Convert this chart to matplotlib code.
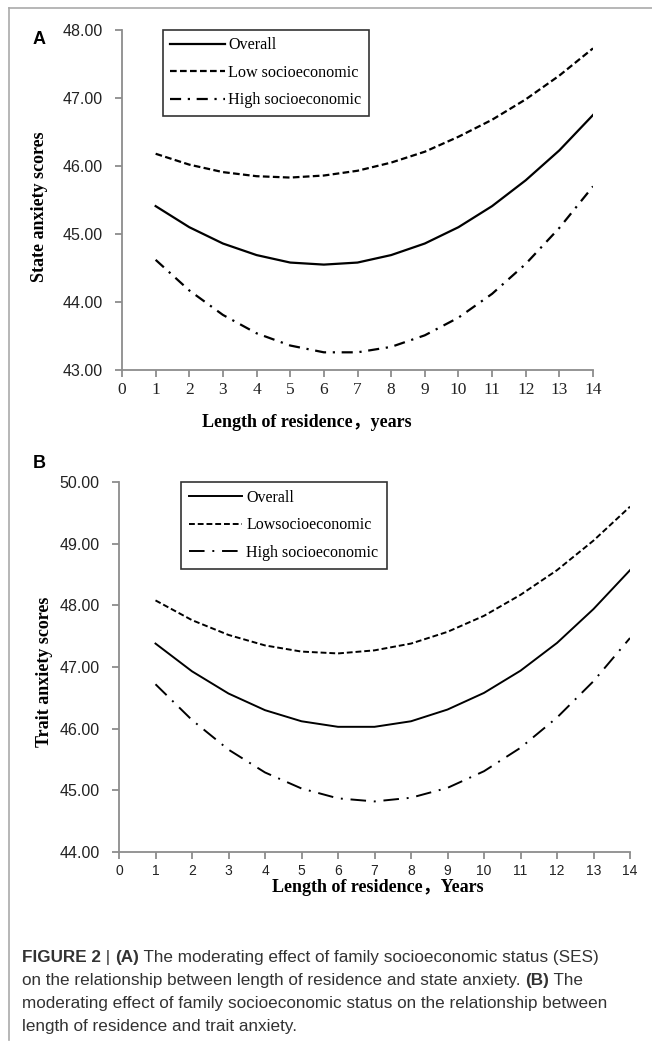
import matplotlib.pyplot as plt
from matplotlib.lines import Line2D

years = list(range(1, 15))

# panel A: state anxiety
stateOverall = [45.41, 45.10, 44.86, 44.69, 44.58, 44.55, 44.58, 44.69, 44.86, 45.10, 45.41, 45.79, 46.23, 46.75]
stateLow = [46.18, 46.02, 45.91, 45.85, 45.83, 45.86, 45.93, 46.05, 46.21, 46.43, 46.68, 46.98, 47.33, 47.73]
stateHigh = [44.62, 44.17, 43.81, 43.54, 43.36, 43.26, 43.26, 43.34, 43.51, 43.77, 44.12, 44.56, 45.09, 45.70]

# panel B: trait anxiety
traitOverall = [47.38, 46.93, 46.57, 46.30, 46.12, 46.03, 46.03, 46.12, 46.31, 46.58, 46.94, 47.39, 47.94, 48.57]
traitLow = [48.08, 47.76, 47.52, 47.35, 47.25, 47.22, 47.27, 47.38, 47.57, 47.83, 48.17, 48.57, 49.05, 49.60]
traitHigh = [46.72, 46.14, 45.66, 45.29, 45.03, 44.87, 44.82, 44.88, 45.04, 45.31, 45.69, 46.18, 46.77, 47.47]

xticks = list(range(0, 15))
yticksA = [43, 44, 45, 46, 47, 48]
yticksB = [44, 45, 46, 47, 48, 49, 50]

serif = ['Liberation Serif', 'Noto Sans CJK SC']
sans = 'Liberation Sans'
gray = '#8c8c8c'
W, H = 652, 1045

fig = plt.figure(figsize=(6.52, 10.45), dpi=100)


def px(x, y):
    # pixel position -> figure fraction
    return x / W, 1 - y / H


def styleAxes(ax):
    ax.spines['top'].set_visible(False)
    ax.spines['right'].set_visible(False)
    for s in ['left', 'bottom']:
        ax.spines[s].set_color(gray)
        ax.spines[s].set_linewidth(1.3)
    ax.tick_params(direction='out', color=gray, length=5, width=1.3)
    ax.tick_params(axis='y', pad=9)


# ---- panel A ----
axA = fig.add_axes([122 / W, 1 - 370 / H, (593 - 122) / W, 340 / H])
axA.plot(years, stateOverall, color='black', lw=1.6, label='Overall')
axA.plot(years, stateLow, color='black', lw=1.6, ls=(0, (3, 1.5)), label='Low socioeconomic')
axA.plot(years, stateHigh, color='black', lw=1.6, ls=(0, (5, 3, 1, 3)), label='High socioeconomic')
axA.set_xlim(0, 14)
axA.set_ylim(43, 48)
axA.set_xticks(xticks)
axA.set_yticks(yticksA)
axA.set_yticklabels(['%.2f' % v for v in yticksA], fontfamily=sans, fontsize=11.5, color='#222222')
axA.set_xticklabels([str(v) for v in xticks], fontfamily='Liberation Serif', fontsize=12.5, color='#222222')
styleAxes(axA)
legA = axA.legend(loc='upper left', bbox_to_anchor=(41 / 471, 1.0), borderaxespad=0, frameon=True,
                  fancybox=False, edgecolor='black', prop={'family': 'Liberation Serif', 'size': 11.6},
                  handlelength=3.4, handletextpad=0.2, borderpad=0.45, labelspacing=0.72)
legA.get_frame().set_linewidth(1.2)
fig.text(*px(40, 207), 'State anxiety scores', rotation=90, ha='center', va='center',
         fontfamily=serif, fontweight='bold', fontsize=13)
fig.text(*px(307, 422), 'Length of residence，years', ha='center', va='center',
         fontfamily=serif, fontweight='bold', fontsize=13)
fig.text(*px(33, 39), 'A', fontfamily=sans, fontweight='bold', fontsize=13, va='center')

# ---- panel B ----
axB = fig.add_axes([119 / W, 1 - 852 / H, (630 - 119) / W, 370 / H])
axB.plot(years, traitOverall, color='black', lw=1.4, label='Overall')
axB.plot(years, traitLow, color='black', lw=1.4, ls=(0, (3, 1.5)), label='Lowsocioeconomic')
axB.plot(years, traitHigh, color='black', lw=1.4, ls=(0, (8, 4, 1, 4)), label='High socioeconomic')
axB.set_xlim(0, 14)
axB.set_ylim(44, 50)
axB.set_xticks(xticks)
axB.set_yticks(yticksB)
axB.set_yticklabels(['%.2f' % v for v in yticksB], fontfamily=sans, fontsize=11.5, color='#222222')
axB.set_xticklabels([str(v) for v in xticks], fontfamily=sans, fontsize=10, color='#222222')
styleAxes(axB)
legB = axB.legend(loc='upper left', bbox_to_anchor=(62 / 511, 1.0), borderaxespad=0, frameon=True,
                  fancybox=False, edgecolor='black', prop={'family': 'Liberation Serif', 'size': 11.5},
                  handlelength=3.3, handletextpad=0.3, borderpad=0.5, labelspacing=0.72)
legB.get_frame().set_linewidth(1.2)
fig.text(*px(45, 672), 'Trait anxiety scores', rotation=90, ha='center', va='center',
         fontfamily=serif, fontweight='bold', fontsize=13)
fig.text(*px(378, 887), 'Length of residence，Years', ha='center', va='center',
         fontfamily=serif, fontweight='bold', fontsize=13)
fig.text(*px(33, 463), 'B', fontfamily=sans, fontweight='bold', fontsize=13, va='center')

# ---- frame ----
fig.add_artist(Line2D([9 / W, 9 / W], [1 - 1040 / H, 1 - 8 / H], color='#aaaaaa', lw=1.2))
fig.add_artist(Line2D([9 / W, 1.0], [1 - 8 / H, 1 - 8 / H], color='#aaaaaa', lw=1.2))

# ---- caption ----
capColor = '#333333'
lines = [
    [('FIGURE 2', 'bold'), (' | ', 'normal'), ('(A)', 'bold'),
     (' The moderating effect of family socioeconomic status (SES)', 'normal')],
    [('on the relationship between length of residence and state anxiety. ', 'normal'), ('(B)', 'bold'), (' The', 'normal')],
    [('moderating effect of family socioeconomic status on the relationship between', 'normal')],
    [('length of residence and trait anxiety.', 'normal')],
]
fig.canvas.draw()
renderer = fig.canvas.get_renderer()
for i, parts in enumerate(lines):
    x = 22 / W
    y = 1 - (962 + 23 * i) / H
    for txt, w in parts:
        t = fig.text(x, y, txt, fontfamily=sans, fontweight=w, fontsize=12.3, color=capColor, va='baseline')
        bb = t.get_window_extent(renderer=renderer)
        x += bb.width / fig.bbox.width

fig.savefig('out.png', dpi=100)
